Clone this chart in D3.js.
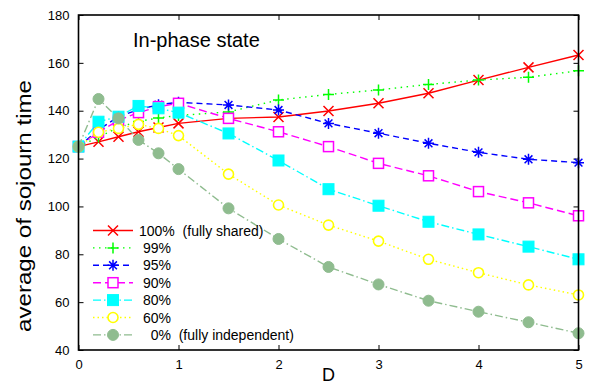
<!DOCTYPE html>
<html><head><meta charset="utf-8">
<script src="https://cdn.jsdelivr.net/npm/d3@7"></script>
<style>
html,body{margin:0;padding:0;background:#fff;}
svg{display:block;font-family:"Liberation Sans",Arial,sans-serif;}
</style></head>
<body>
<svg id="chart" width="592" height="383"></svg>
<script>
const xValues = [0, 0.2, 0.4, 0.6, 0.8, 1, 1.5, 2, 2.5, 3, 3.5, 4, 4.5, 5];
const s100 = [125, 127, 129.1, 131.2, 133, 134.7, 136.8, 137.4, 139.9, 143.1, 147.3, 152.8, 158.1, 163.3];
const s99  = [125, 129, 133, 135.5, 137, 138, 139.5, 144.5, 146.8, 148.7, 151, 152.8, 154, 156.7];
const s95  = [125, 132, 137.5, 140.5, 142.5, 143.5, 142.4, 140.3, 134.7, 130.6, 126.4, 122.6, 119.7, 118.3];
const s90  = [125, 131, 136, 139.2, 141.7, 143.1, 136.8, 131.2, 125, 118, 112.8, 106.2, 101.5, 96.1];
const s80  = [125, 135.4, 137.5, 142, 141, 139.2, 130.5, 119.2, 107.2, 100.3, 93.6, 88.3, 83.2, 77.9];
const s60  = [125, 131, 132.6, 134.3, 132.6, 129.6, 113.5, 100.6, 92.2, 85.5, 77.9, 72.3, 67.2, 63];
const s0   = [125, 144.9, 136.8, 127.8, 122.2, 115.6, 99.2, 86.4, 74.7, 67.4, 60.6, 56, 51.6, 47];
const seriesLabels = ["100%  (fully shared)", " 99%", " 95%", " 90%", " 80%", " 60%", "   0%  (fully independent)"];
const xTicks = [0, 1, 2, 3, 4, 5];
const yTicks = [40, 60, 80, 100, 120, 140, 160, 180];
const titleText = "In-phase state";
const xLabel = "D";
const yLabel = "average of sojourn time";

const seriesData = [s100, s99, s95, s90, s80, s60, s0];
const styles = [
  {color: "#ff0000", dash: null, marker: "x"},
  {color: "#00ff00", dash: "1.5,4.5", marker: "plus"},
  {color: "#0000ff", dash: "6,4", marker: "star"},
  {color: "#ff00ff", dash: "8,4", marker: "square"},
  {color: "#00ffff", dash: "8,3,1.5,3", marker: "fsquare"},
  {color: "#ffff00", dash: "1.5,3", marker: "circle"},
  {color: "#8fbc8f", dash: "8,3,1.5,3", marker: "fcircle"}
];

const svg = d3.select("#chart");
const L = 78.5, R = 578.5, T = 15, B = 350;
const x = d3.scaleLinear().domain([0, 5]).range([L, R]);
const y = d3.scaleLinear().domain([40, 180]).range([B, T]);

const fs = 13;
const ax = svg.append("g").attr("transform", `translate(0,${B})`)
  .call(d3.axisBottom(x).tickValues(xTicks).tickSize(-5).tickPadding(10).tickFormat(d3.format("d")));
const axTop = svg.append("g").attr("transform", `translate(0,${T})`)
  .call(d3.axisTop(x).tickValues(xTicks).tickSize(-5).tickFormat(""));
const ay = svg.append("g").attr("transform", `translate(${L},0)`)
  .call(d3.axisLeft(y).tickValues(yTicks).tickSize(-5).tickPadding(9).tickFormat(d3.format("d")));
const ayR = svg.append("g").attr("transform", `translate(${R},0)`)
  .call(d3.axisRight(y).tickValues(yTicks).tickSize(-5).tickFormat(""));
[ax, axTop, ay, ayR].forEach(g => {
  g.select(".domain").remove();
  g.selectAll(".tick line").attr("stroke", "#000").attr("stroke-width", 1);
  g.selectAll("text").attr("font-size", fs).attr("fill", "#000").attr("font-family", "Liberation Sans, Arial, sans-serif");
});
ax.selectAll("text").attr("dy", "0.71em");

function drawMarker(g, type, color, cx, cy) {
  const s = 5;
  if (type === "x") {
    g.append("path").attr("d", `M${cx-s},${cy-s}L${cx+s},${cy+s}M${cx-s},${cy+s}L${cx+s},${cy-s}`)
      .attr("stroke", color).attr("stroke-width", 1.5).attr("fill", "none");
  } else if (type === "plus") {
    g.append("path").attr("d", `M${cx-5.5},${cy}L${cx+5.5},${cy}M${cx},${cy-5.5}L${cx},${cy+5.5}`)
      .attr("stroke", color).attr("stroke-width", 1.5).attr("fill", "none");
  } else if (type === "star") {
    const d = 5.5, e = 3.9;
    g.append("path").attr("d", `M${cx-d},${cy}L${cx+d},${cy}M${cx},${cy-d}L${cx},${cy+d}M${cx-e},${cy-e}L${cx+e},${cy+e}M${cx-e},${cy+e}L${cx+e},${cy-e}`)
      .attr("stroke", color).attr("stroke-width", 1.5).attr("fill", "none");
  } else if (type === "square") {
    g.append("rect").attr("x", cx - 5).attr("y", cy - 5).attr("width", 10).attr("height", 10)
      .attr("stroke", color).attr("stroke-width", 1.5).attr("fill", "#fff");
  } else if (type === "fsquare") {
    g.append("rect").attr("x", cx - 5.5).attr("y", cy - 5.5).attr("width", 11).attr("height", 11)
      .attr("stroke", color).attr("stroke-width", 1).attr("fill", color);
  } else if (type === "circle") {
    g.append("circle").attr("cx", cx).attr("cy", cy).attr("r", 5)
      .attr("stroke", color).attr("stroke-width", 1.6).attr("fill", "#fff");
  } else if (type === "fcircle") {
    g.append("circle").attr("cx", cx).attr("cy", cy).attr("r", 5.5)
      .attr("stroke", color).attr("stroke-width", 1).attr("fill", color);
  }
}

const line = d3.line().x((d, i) => x(xValues[i])).y(d => y(d));
const plotG = svg.append("g");
seriesData.forEach((vals, k) => {
  const st = styles[k];
  const g = plotG.append("g");
  g.append("path").datum(vals).attr("d", line)
    .attr("fill", "none").attr("stroke", st.color).attr("stroke-width", 1.4)
    .attr("stroke-dasharray", st.dash);
  vals.forEach((v, i) => drawMarker(g, st.marker, st.color, x(xValues[i]), y(v)));
});

svg.append("rect").attr("x", L).attr("y", T).attr("width", R - L).attr("height", B - T)
  .attr("fill", "none").attr("stroke", "#000").attr("stroke-width", 1.6);

const lg = svg.append("g");
const legY0 = 230.5, legDy = 17.4;
seriesLabels.forEach((lab, k) => {
  const st = styles[k];
  const yy = legY0 + k * legDy;
  lg.append("line").attr("x1", 93).attr("x2", 133).attr("y1", yy).attr("y2", yy)
    .attr("stroke", st.color).attr("stroke-width", 1.4).attr("stroke-dasharray", st.dash);
  drawMarker(lg, st.marker, st.color, 113, yy);
  lg.append("text").attr("x", 139).attr("y", yy).attr("dy", "0.36em")
    .attr("font-size", 14).attr("fill", "#000").style("white-space", "pre").text(lab);
});

svg.append("text").attr("x", 133).attr("y", 47).attr("font-size", 20).attr("fill", "#000").text(titleText);
svg.append("text").attr("x", x(2.5)).attr("y", 380.5).attr("text-anchor", "middle")
  .attr("font-size", 18).attr("fill", "#000").text(xLabel);
svg.append("text").attr("transform", `translate(31,206) rotate(-90)`)
  .attr("text-anchor", "middle").attr("font-size", 20).attr("fill", "#000")
  .attr("textLength", 252).attr("lengthAdjust", "spacingAndGlyphs").text(yLabel);
</script>
</body></html>
